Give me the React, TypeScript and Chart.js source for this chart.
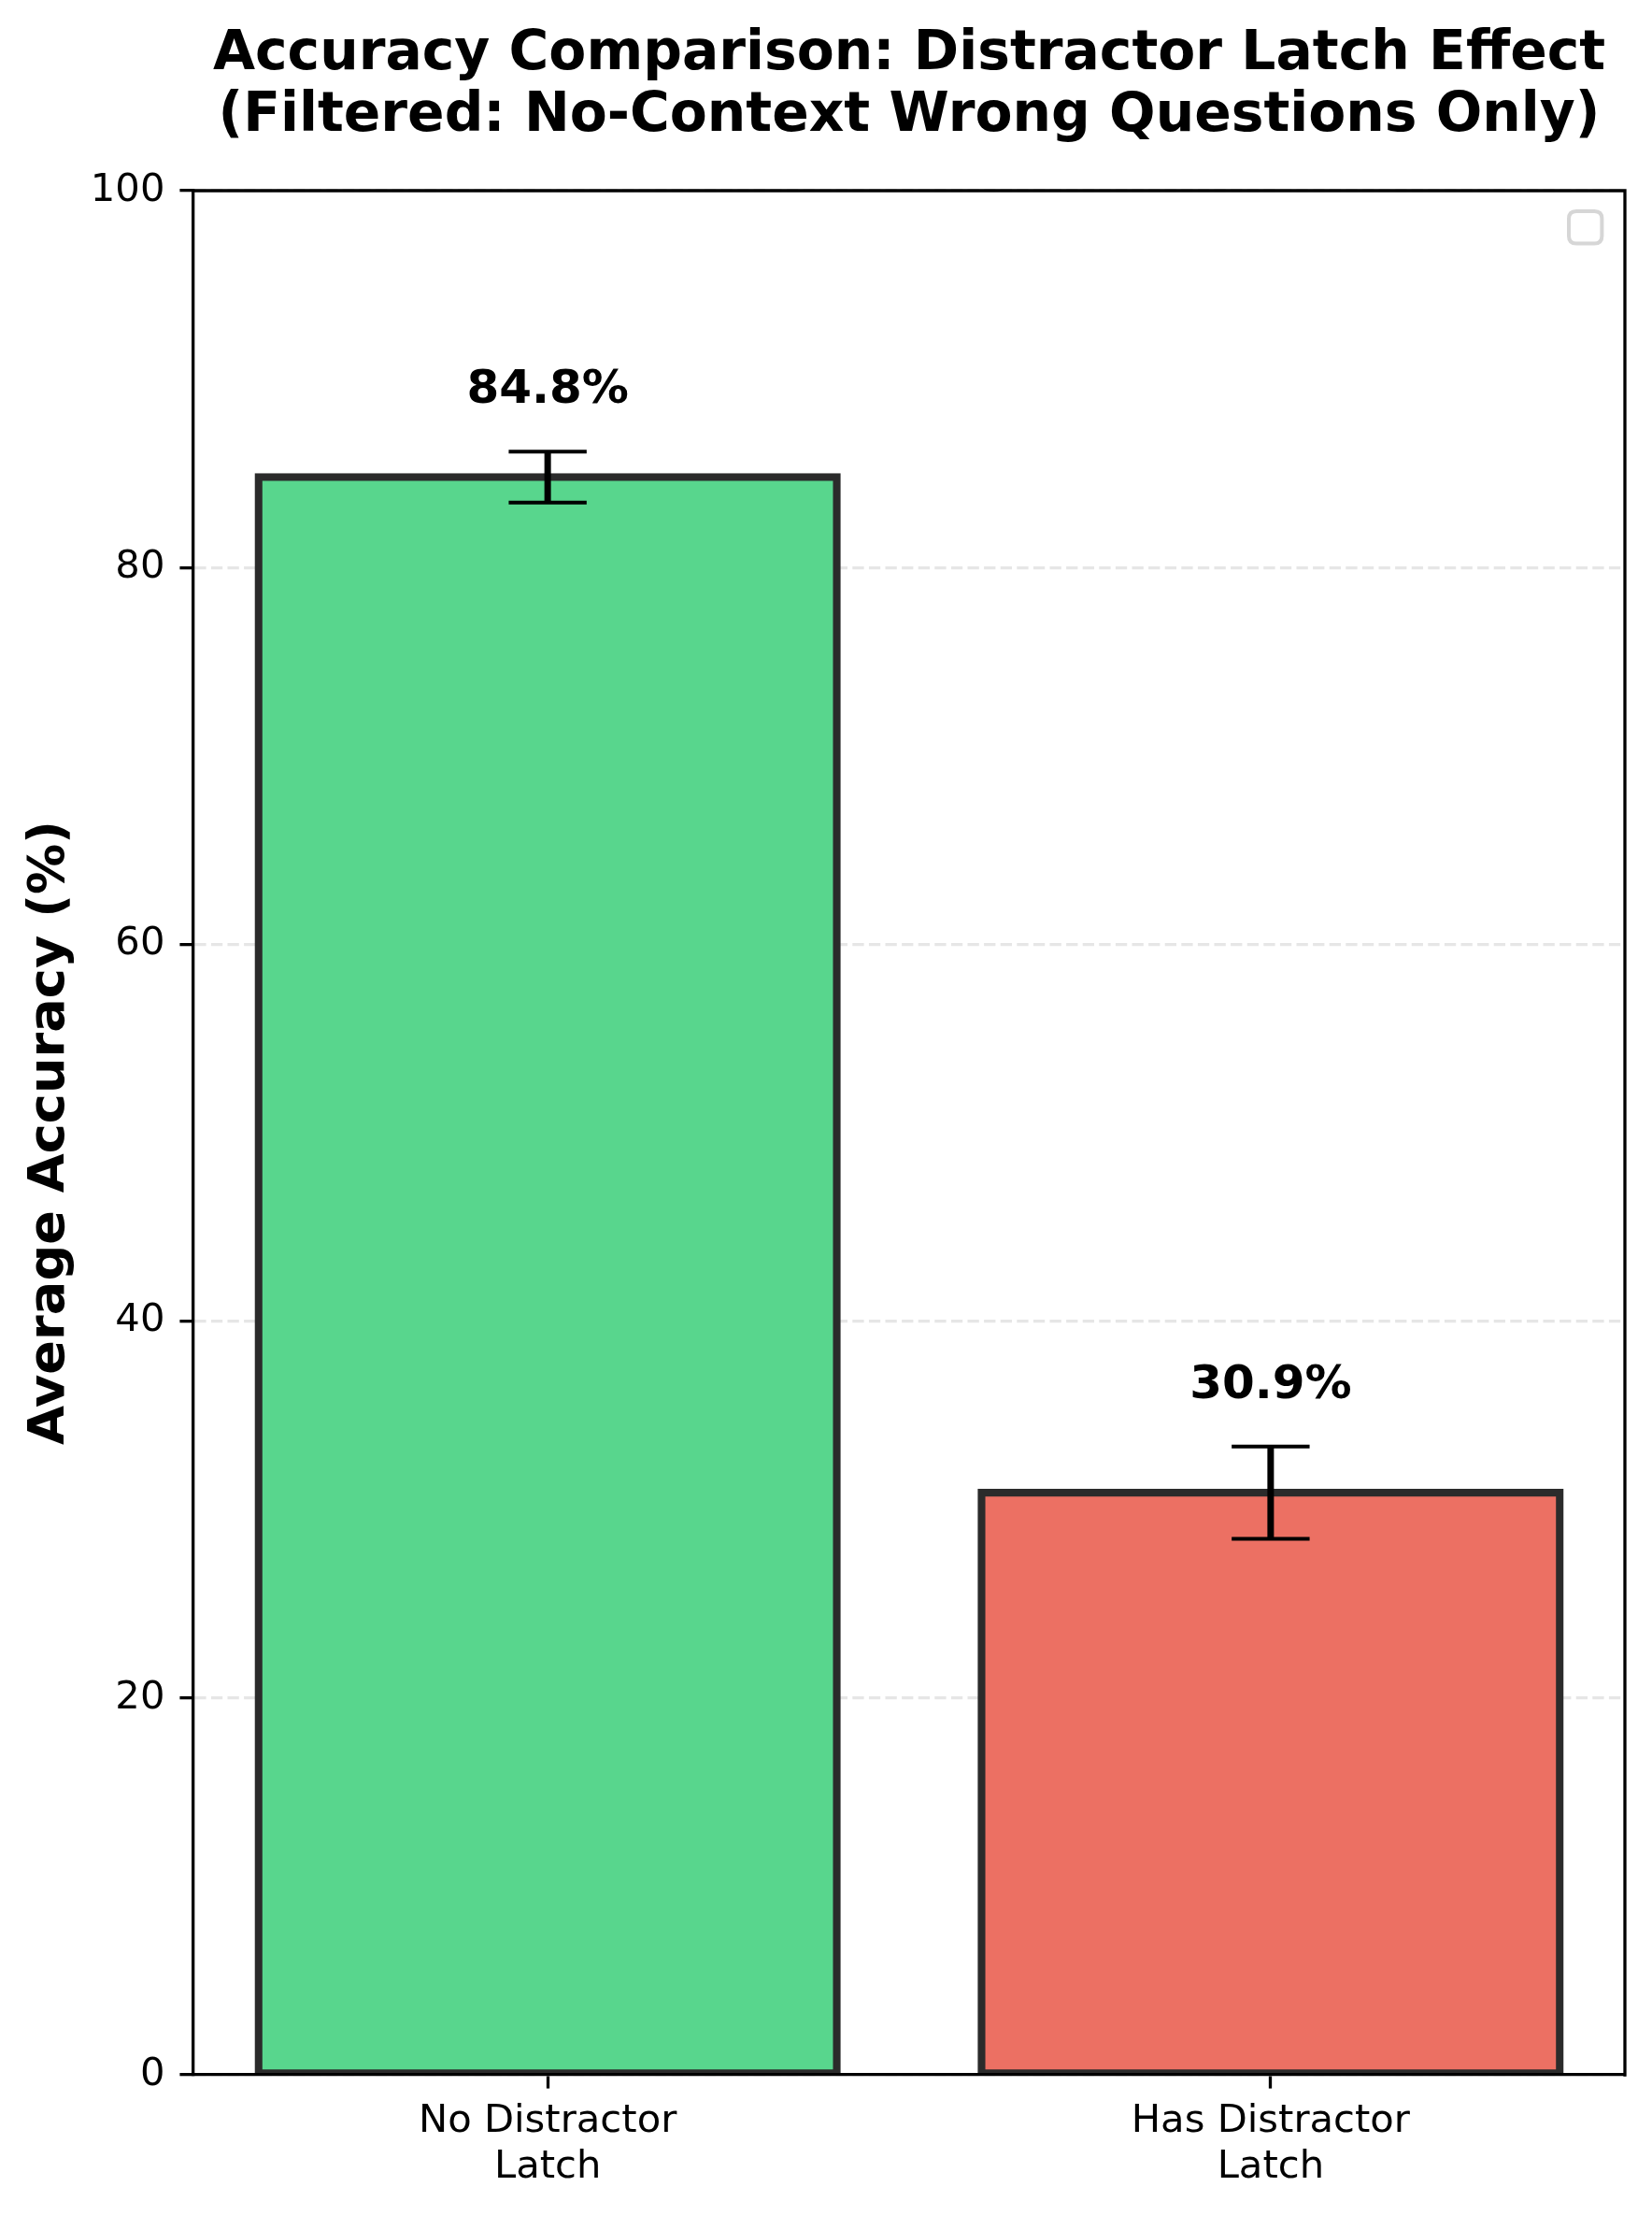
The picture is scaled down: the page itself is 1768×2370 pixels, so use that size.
import React, { useEffect, useRef } from "react";
import { Chart, registerables } from "chart.js";

Chart.register(...registerables);

const categories = ["No Distractor\nLatch", "Has Distractor\nLatch"];
const accuracy = [84.8, 30.9];
const errors = [1.35, 2.45];
const barColors = ["rgb(88,214,141)", "rgb(236,112,99)"];
const titleLines = [
  "Accuracy Comparison: Distractor Latch Effect",
  "(Filtered: No-Context Wrong Questions Only)",
];
const yLabel = "Average Accuracy (%)";
const yMin = 0;
const yMax = 100;
const yStep = 20;

const FONT = "'DejaVu Sans', sans-serif";

const overlayPlugin = {
  id: "overlay",
  afterDatasetsDraw(chart: any) {
    const { ctx, scales } = chart;
    const x = scales.x;
    const y = scales.y;
    ctx.save();
    // error bars
    accuracy.forEach((v, i) => {
      const px = x.getPixelForValue(i);
      const top = y.getPixelForValue(v + errors[i]);
      const bot = y.getPixelForValue(v - errors[i]);
      ctx.strokeStyle = "#000";
      ctx.lineCap = "butt";
      ctx.lineWidth = 7;
      ctx.beginPath();
      ctx.moveTo(px, top);
      ctx.lineTo(px, bot);
      ctx.stroke();
      ctx.lineWidth = 4;
      const cap = 41.7;
      ctx.beginPath();
      ctx.moveTo(px - cap, top);
      ctx.lineTo(px + cap, top);
      ctx.moveTo(px - cap, bot);
      ctx.lineTo(px + cap, bot);
      ctx.stroke();
      // value labels
      ctx.fillStyle = "#000";
      ctx.font = `bold 50px ${FONT}`;
      ctx.textAlign = "center";
      ctx.textBaseline = "alphabetic";
      ctx.fillText(`${v.toFixed(1)}%`, px, y.getPixelForValue(v + errors[i] + 2) - 11.8);
    });
    ctx.restore();
  },
  afterDraw(chart: any) {
    const { ctx, chartArea } = chart;
    ctx.save();
    // top and right spines
    ctx.strokeStyle = "#000";
    ctx.lineWidth = 3.3;
    ctx.beginPath();
    ctx.moveTo(chartArea.left - 1.65, chartArea.top);
    ctx.lineTo(chartArea.right, chartArea.top);
    ctx.lineTo(chartArea.right, chartArea.bottom + 1.65);
    ctx.stroke();
    // empty legend frame
    const lx = chartArea.right - 60;
    const ly = chartArea.top + 22;
    const w = 35.4;
    const h = 34.4;
    const r = 8;
    ctx.strokeStyle = "#d6d6d6";
    ctx.lineWidth = 4;
    ctx.beginPath();
    ctx.moveTo(lx + r, ly);
    ctx.lineTo(lx + w - r, ly);
    ctx.quadraticCurveTo(lx + w, ly, lx + w, ly + r);
    ctx.lineTo(lx + w, ly + h - r);
    ctx.quadraticCurveTo(lx + w, ly + h, lx + w - r, ly + h);
    ctx.lineTo(lx + r, ly + h);
    ctx.quadraticCurveTo(lx, ly + h, lx, ly + h - r);
    ctx.lineTo(lx, ly + r);
    ctx.quadraticCurveTo(lx, ly, lx + r, ly);
    ctx.closePath();
    ctx.stroke();
    ctx.restore();
  },
};

export default function App() {
  const ref = useRef<HTMLCanvasElement>(null);

  useEffect(() => {
    if (!ref.current) return;
    const chart = new Chart(ref.current, {
      type: "bar",
      data: {
        datasets: [
          {
            data: accuracy.map((v, i) => ({ x: i, y: v })),
            backgroundColor: barColors,
            borderColor: "#2b2b2b",
            borderWidth: 8.3,
            borderSkipped: false,
            inflateAmount: 4.15,
            barPercentage: 1,
            categoryPercentage: 0.8,
          },
        ],
      },
      options: {
        responsive: false,
        animation: false,
        devicePixelRatio: 1,
        layout: { padding: { left: 0, right: 29, top: 0, bottom: 0 } },
        plugins: {
          legend: { display: false },
          tooltip: { enabled: false },
          title: {
            display: true,
            text: titleLines,
            fullSize: false,
            color: "#000",
            font: { family: FONT, size: 58.3, weight: "bold", lineHeight: 1.127 },
            padding: { top: 25.85, bottom: 46.75 },
          },
        },
        scales: {
          x: {
            type: "linear",
            min: -0.49,
            max: 1.49,
            bounds: "data",
            offset: false,
            afterBuildTicks: (scale: any) => {
              scale.ticks = categories.map((_, i) => ({ value: i }));
            },
            afterFit: (scale: any) => {
              scale.height = 150;
            },
            ticks: {
              color: "#000",
              padding: 11.75,
              autoSkip: false,
              maxRotation: 0,
              font: { family: FONT, size: 41.7, lineHeight: 1.163 },
              callback: (value: any) => {
                const c = categories[Math.round(Number(value))];
                return c ? c.split("\n") : "";
              },
            },
            grid: {
              display: true,
              offset: false,
              drawOnChartArea: false,
              drawTicks: true,
              tickLength: 14.6,
              tickWidth: 3.3,
              tickColor: "#000",
            },
            border: { display: true, color: "#000", width: 3.3, z: 1 },
          },
          y: {
            type: "linear",
            min: yMin,
            max: yMax,
            afterFit: (scale: any) => {
              scale.width = 207;
            },
            ticks: {
              stepSize: yStep,
              color: "#000",
              padding: 16,
              font: { family: FONT, size: 41.7 },
            },
            grid: {
              display: true,
              drawOnChartArea: true,
              drawTicks: true,
              color: "#e6e6e6",
              lineWidth: 3.3,
              tickLength: 14.6,
              tickWidth: 3.3,
              tickColor: "#000",
              tickBorderDash: [],
            },
            border: { display: true, color: "#000", width: 3.3, dash: [12.3, 5.3] },
            title: {
              display: true,
              text: yLabel,
              color: "#000",
              font: { family: FONT, size: 54.2, weight: "bold", lineHeight: 1.2 },
              padding: { top: 21.4, bottom: 0 },
            },
          },
        },
      },
      plugins: [overlayPlugin],
    } as any);
    return () => chart.destroy();
  }, []);

  return (
    <div style={{ position: "absolute", left: 0, top: 0, width: 1768, height: 2370, background: "#fff" }}>
      <canvas ref={ref} width={1768} height={2370} style={{ display: "block" }} />
    </div>
  );
}
